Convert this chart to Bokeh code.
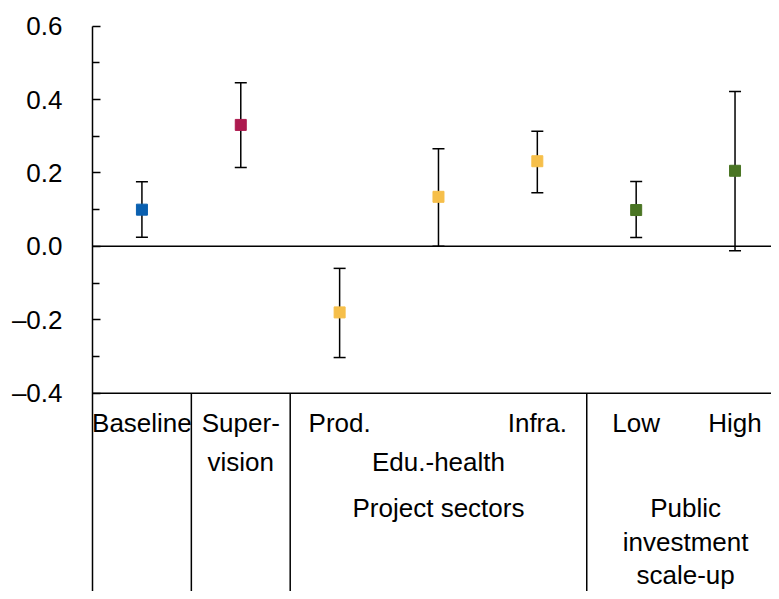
from bokeh.plotting import figure
from bokeh.models import (Range1d, Span, FixedTicker, CustomJSTickFormatter,
                          ColumnDataSource)
from bokeh.embed import file_html
from bokeh.resources import INLINE
from bokeh.core.properties import value

# ---- data ----
categories = ["Baseline", "Super-\nvision", "Prod.", "Edu.-health", "Infra.", "Low", "High"]
estimates = [0.100, 0.331, -0.180, 0.135, 0.232, 0.099, 0.206]
lower = [0.025, 0.215, -0.303, 0.000, 0.146, 0.024, -0.012]
upper = [0.176, 0.446, -0.060, 0.266, 0.314, 0.177, 0.422]
category_group = [None, None, "Project sectors", "Project sectors", "Project sectors",
                  "Public\ninvestment\nscale-up", "Public\ninvestment\nscale-up"]
y_ticks = [-0.4, -0.2, 0.0, 0.2, 0.4, 0.6]
colors = ["#0a60b0", "#ad1a4f", "#f6bf4a", "#f6bf4a", "#f6bf4a", "#4a7524", "#4a7524"]

FONT = "Liberation Sans"
FS = "26px"

xs = list(range(len(categories)))
minor_ticks = [(a + b) / 2 for a, b in zip(y_ticks[:-1], y_ticks[1:])]

W, H = 771, 591
LEFT, TOP = 92, 18
Y_MIN, Y_MAX = y_ticks[0], y_ticks[-1]
PX_PER_UNIT = 366.8
axis_px = 392.7            # pixel row of Y_MIN
y_start = Y_MIN - (H - axis_px) / PX_PER_UNIT
y_end = Y_MAX + (25.7 - TOP) / PX_PER_UNIT
CAT_PX = 98.85
x_start = -0.5
x_end = x_start + (W - LEFT) / CAT_PX

p = figure(width=W, height=H, output_backend="svg", toolbar_location=None,
           x_range=Range1d(x_start, x_end), y_range=Range1d(y_start, y_end),
           x_axis_type=None, title=None,
           min_border_left=LEFT, min_border_right=0, min_border_top=TOP, min_border_bottom=0)
p.outline_line_color = None
p.grid.visible = False
p.background_fill_color = "white"
p.border_fill_color = "white"

ax = p.yaxis[0]
ax.ticker = FixedTicker(ticks=y_ticks, minor_ticks=minor_ticks)
ax.bounds = (y_start, Y_MAX)
ax.formatter = CustomJSTickFormatter(code="""
    var v = Math.round(tick*10)/10;
    return (v < 0 ? '\\u2013' : '') + Math.abs(v).toFixed(1);
""")
ax.major_tick_in = 8
ax.major_tick_out = 0
ax.minor_tick_in = 7
ax.minor_tick_out = 0
ax.axis_line_color = "black"
ax.axis_line_width = 1.5
ax.major_tick_line_color = "black"
ax.major_tick_line_width = 1.5
ax.minor_tick_line_color = "black"
ax.minor_tick_line_width = 1.5
ax.major_label_text_font = FONT
ax.major_label_text_font_size = FS
ax.major_label_text_color = "black"
ax.major_label_standoff = 30

# zero line and bottom axis line
p.add_layout(Span(location=0, dimension="width", line_color="black", line_width=1.5))
p.add_layout(Span(location=Y_MIN, dimension="width", line_color="black", line_width=1.5))

# separators in the label area (between ungrouped categories / groups)
seps = []
for i in range(1, len(categories)):
    if category_group[i] is None or category_group[i] != category_group[i - 1]:
        seps.append(i - 0.5)
p.segment(x0=seps, x1=seps, y0=[Y_MIN] * len(seps), y1=[y_start] * len(seps),
          line_color="black", line_width=1.5)

# error bars
p.segment(x0=xs, x1=xs, y0=lower, y1=upper, line_color="black", line_width=1.5)
p.scatter(x=xs, y=lower, marker="dash", size=12, line_color="black", line_width=1.5)
p.scatter(x=xs, y=upper, marker="dash", size=12, line_color="black", line_width=1.5)

# points
p.scatter(x=xs, y=estimates, marker="square", size=11, fill_color=colors, line_color=colors)

# labels below the axis (pixel offsets below the x axis line)
row_offsets = [30.3, 69.3, 115.0, 149.0, 182.0]
cat_start_row = [0, 0, 0, 1, 0, 0, 0]
lx, ly, lt, lo = [], [], [], []
for i, lab in enumerate(categories):
    for j, line in enumerate(lab.split("\n")):
        lx.append(xs[i]); ly.append(Y_MIN); lt.append(line)
        lo.append(row_offsets[cat_start_row[i] + j])
seen = []
for g in category_group:
    if g is not None and g not in seen:
        seen.append(g)
for g in seen:
    idx = [i for i, c in enumerate(category_group) if c == g]
    gx = (xs[idx[0]] + xs[idx[-1]]) / 2
    for j, line in enumerate(g.split("\n")):
        lx.append(gx); ly.append(Y_MIN); lt.append(line); lo.append(row_offsets[2 + j])

src = ColumnDataSource(dict(x=lx, y=ly, text=lt, yoff=lo))
p.text(x="x", y="y", text="text", y_offset="yoff", source=src,
       text_font=value(FONT), text_font_size=FS, text_align="center",
       text_baseline="alphabetic", text_color="black")

open("out.html", "w").write(file_html(p, INLINE))
